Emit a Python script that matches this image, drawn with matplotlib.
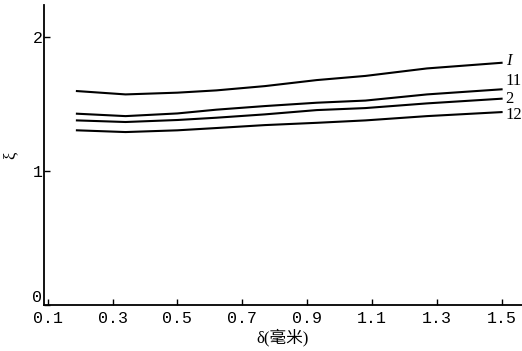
import matplotlib
matplotlib.use('Agg')
import matplotlib.pyplot as plt

plt.rcParams['font.family'] = ['Liberation Serif', 'Noto Sans CJK SC', 'DejaVu Sans']

delta = [0.19, 0.34, 0.5, 0.62, 0.77, 0.93, 1.08, 1.27, 1.5]
xi_1 = [1.597, 1.572, 1.585, 1.602, 1.634, 1.679, 1.71, 1.766, 1.808]
xi_11 = [1.428, 1.41, 1.43, 1.458, 1.485, 1.51, 1.526, 1.572, 1.61]
xi_2 = [1.378, 1.366, 1.381, 1.398, 1.423, 1.455, 1.47, 1.505, 1.54]
xi_12 = [1.304, 1.291, 1.304, 1.321, 1.343, 1.36, 1.378, 1.41, 1.44]
names = ['I', '11', '2', '12']
name_dy = [1, 6, 0, -2]
xticks = [0.1, 0.3, 0.5, 0.7, 0.9, 1.1, 1.3, 1.5]

fig = plt.figure(figsize=(5.22, 3.51), dpi=100)
ax = fig.add_axes([0.084, 0.131, 0.916, 0.855])

for ys, name, dy in zip([xi_1, xi_11, xi_2, xi_12], names, name_dy):
    ax.plot(delta, ys, color='black', lw=1.5, solid_joinstyle='round')
    ax.annotate(name, xy=(delta[-1], ys[-1]), xytext=(3, dy),
                textcoords='offset points', fontsize=12,
                style='italic' if name == 'I' else 'normal',
                ha='left', va='center')

ax.set_xlim(0.088, 1.563)
ax.set_ylim(0, 2.24)
ax.set_xticks(xticks)
ax.set_xticklabels([f'{v:.1f}' for v in xticks], family='Liberation Mono')
ax.set_yticks([0, 1, 2])
ax.set_yticklabels(['0', '1', '2'], family='Liberation Mono')
ax.tick_params(direction='in', length=4, labelsize=12, width=1)
ax.tick_params(axis='x', pad=4)
ax.tick_params(axis='y', pad=1)
ax.get_yticklabels()[0].set_verticalalignment('bottom')

for s in ['top', 'right']:
    ax.spines[s].set_visible(False)
for s in ['left', 'bottom']:
    ax.spines[s].set_linewidth(1.3)

ax.set_xlabel('δ(毫米)', fontsize=12, labelpad=2)
ax.set_ylabel('ξ', fontsize=12, labelpad=10)

plt.savefig('out.png', dpi=100)
